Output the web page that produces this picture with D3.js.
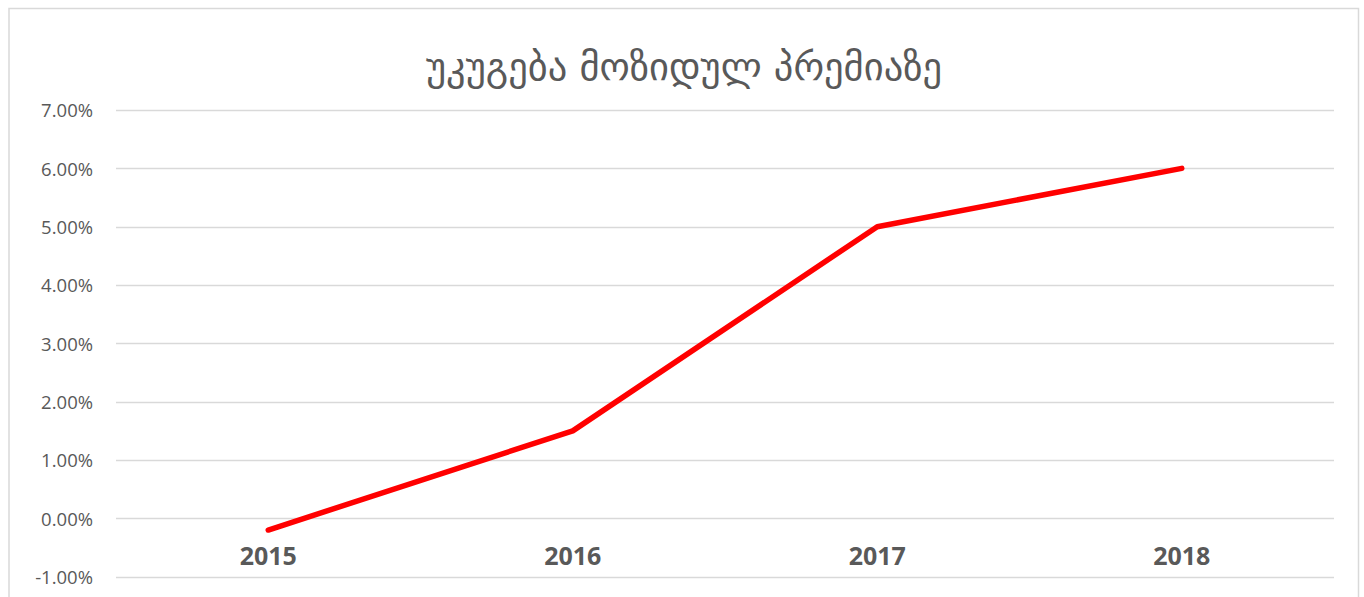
<!DOCTYPE html>
<html>
<head>
<meta charset="utf-8">
<script src="https://cdn.jsdelivr.net/npm/d3@7"></script>
<style>
	body { margin: 0; background: #fff; }
	svg { display: block; }
</style>
</head>
<body>
<div id="container"></div>
<script>
// chart data
var years = ["2015", "2016", "2017", "2018"];
var returns = [-0.2, 1.5, 5.0, 6.0];
var yTicks = [-1, 0, 1, 2, 3, 4, 5, 6, 7];
var title = "უკუგება მოზიდულ პრემიაზე";

var width = 1364, height = 597;

var svg = d3.select("#container").append("svg")
	.attr("width", width)
	.attr("height", height);

// chart frame (bottom edge is cut off by the window)
svg.append("path")
	.attr("d", "M9,620 V8.5 H1358.5 V620")
	.attr("fill", "none")
	.attr("stroke", "#d9d9d9")
	.attr("stroke-width", 1.5);

var x = d3.scaleBand().domain(years).range([116, 1334]);
var y = d3.scaleLinear().domain([-1, 7]).range([576.7, 110]);

// gridlines
svg.append("g")
	.selectAll("line")
	.data(yTicks)
	.enter().append("line")
	.attr("x1", 116)
	.attr("x2", 1334)
	.attr("y1", function(d) { return Math.round(y(d)) + 0.5; })
	.attr("y2", function(d) { return Math.round(y(d)) + 0.5; })
	.attr("stroke", "#d9d9d9")
	.attr("stroke-width", 1.3);

// y axis labels
var yAxis = d3.axisLeft(y)
	.tickValues(yTicks)
	.tickSize(0)
	.tickPadding(23)
	.tickFormat(function(d) { return d.toFixed(2) + "%"; });

svg.append("g")
	.attr("transform", "translate(116,0)")
	.call(yAxis)
	.call(function(g) { g.select(".domain").remove(); })
	.selectAll("text")
	.attr("dy", "0.36em")
	.style("font-family", "'Open Sans', sans-serif")
	.style("font-size", "18.5px")
	.style("fill", "#595959");

// category labels sit just under the zero line
var xAxis = d3.axisBottom(x).tickSize(0).tickPadding(0);
svg.append("g")
	.attr("transform", "translate(0," + y(0) + ")")
	.call(xAxis)
	.call(function(g) { g.select(".domain").remove(); })
	.selectAll("text")
	.attr("dy", "1.85em")
	.style("font-family", "'Open Sans', sans-serif")
	.style("font-weight", "bold")
	.style("font-size", "25px")
	.style("fill", "#595959");

// the line
var line = d3.line()
	.x(function(d, i) { return x(years[i]) + x.bandwidth() / 2; })
	.y(function(d) { return y(d); });

svg.append("path")
	.datum(returns)
	.attr("d", line)
	.attr("fill", "none")
	.attr("stroke", "#ff0000")
	.attr("stroke-width", 5.5)
	.attr("stroke-linecap", "round")
	.attr("stroke-linejoin", "round");

// title
svg.append("text")
	.attr("x", 684)
	.attr("y", 80)
	.attr("text-anchor", "middle")
	.style("font-family", "'DejaVu Sans', sans-serif")
	.style("font-size", "38.5px")
	.style("fill", "#595959")
	.text(title);
</script>
</body>
</html>
